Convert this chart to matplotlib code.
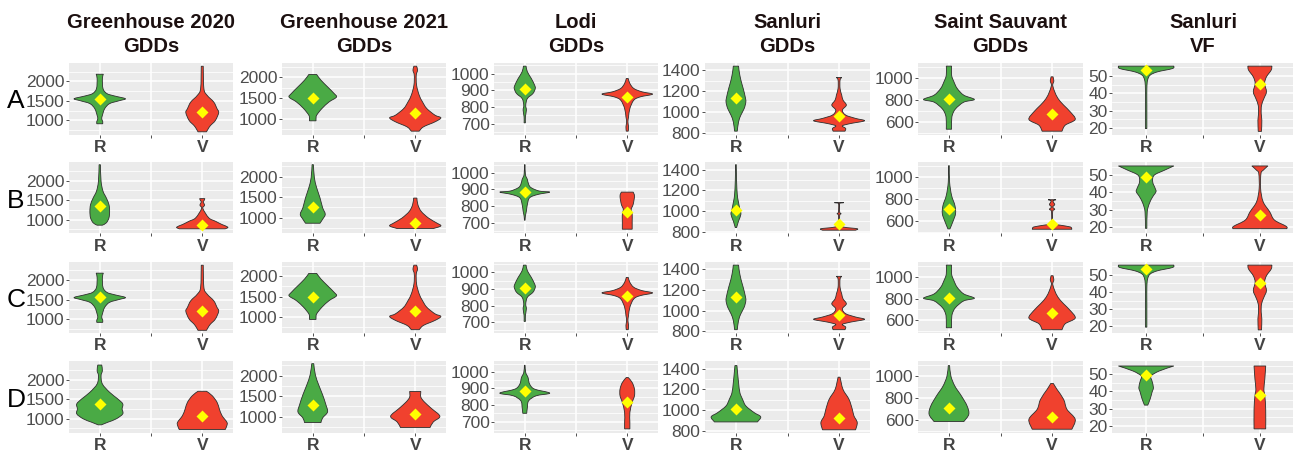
import matplotlib
matplotlib.use('Agg')
import matplotlib.pyplot as plt
from matplotlib.ticker import FixedLocator
from matplotlib.path import Path
from matplotlib.patches import PathPatch

plt.rcParams['font.family'] = ['Liberation Sans', 'DejaVu Sans']

# ---------------- DATA ----------------
# Violin outlines: (value, relative density width), top to bottom.
# Rows C repeat rows A (identical in the reference).
row_labels = ['A', 'B', 'C', 'D']
groups = ['R', 'V']

# Greenhouse 2020 GDDs
gh20_A_R = [(2180, 11), (2070, 8), (1810, 10), (1685, 22), (1625, 45), (1555, 78), (1505, 60),
            (1430, 30), (1300, 15), (1130, 8), (1040, 6), (975, 9), (915, 9)]
gh20_A_V = [(2385, 3), (1810, 5), (1640, 15), (1470, 35), (1300, 45), (1200, 50), (1000, 40),
            (870, 25), (785, 18), (710, 13)]
gh20_B_R = [(2410, 2), (1983, 4), (1727, 10), (1556, 20), (1385, 28), (1214, 30), (1043, 28),
            (915, 20), (855, 8)]
gh20_B_V = [(1538, 8), (1495, 6), (1453, 3), (1368, 7), (1282, 2), (1043, 20), (957, 40),
            (872, 60), (804, 78), (761, 70)]
gh20_D_R = [(2376, 6), (2231, 8), (2103, 4), (1889, 8), (1675, 30), (1504, 55), (1376, 70),
            (1248, 68), (1120, 70), (991, 50), (906, 25), (838, 5)]
gh20_D_V = [(1701, 13), (1590, 30), (1419, 45), (1248, 52), (1077, 60), (906, 75), (820, 75),
            (718, 70)]
gh20_means = {'A': [1555, 1214], 'B': [1359, 872], 'D': [1368, 1077]}

# Greenhouse 2021 GDDs
gh21_A_R = [(2064, 12), (1927, 25), (1766, 45), (1605, 65), (1516, 72), (1403, 50), (1242, 28),
            (1081, 12), (1000, 10), (944, 10)]
gh21_A_V = [(2266, 4), (2169, 7), (2048, 3), (1806, 4), (1564, 12), (1403, 22), (1242, 35),
            (1081, 60), (1016, 78), (919, 60), (798, 25), (694, 12)]
gh21_B_R = [(2290, 2), (1968, 5), (1726, 12), (1484, 22), (1242, 30), (1081, 38), (960, 30),
            (863, 22)]
gh21_B_V = [(1476, 5), (1315, 8), (1153, 18), (992, 40), (871, 65), (798, 78), (734, 55)]
gh21_D_R = [(2290, 3), (2016, 8), (1774, 18), (1532, 30), (1290, 40), (1113, 45), (968, 30),
            (855, 25)]
gh21_D_V = [(1613, 17), (1476, 17), (1355, 28), (1194, 50), (1008, 75), (871, 55), (734, 45)]
gh21_means = {'A': [1500, 1145], 'B': [1266, 879], 'D': [1290, 1056]}

# Lodi GDDs
lodi_A_R = [(1044, 4), (1010, 8), (970, 20), (930, 30), (910, 32), (880, 25), (850, 8),
            (810, 3), (780, 5), (740, 2), (704, 2)]
lodi_A_V = [(970, 3), (940, 8), (910, 20), (890, 45), (876, 77), (860, 40), (840, 20),
            (790, 8), (740, 4), (710, 2), (680, 4), (654, 3)]
lodi_B_R = [(1050, 1), (990, 2), (960, 8), (930, 12), (910, 20), (890, 45), (884, 76),
            (870, 40), (850, 15), (810, 8), (770, 5), (740, 2), (714, 1)]
lodi_B_V = [(884, 18), (860, 22), (810, 18), (780, 12), (750, 15), (710, 15), (660, 15)]
lodi_D_R = [(1040, 1), (996, 3), (966, 10), (926, 15), (896, 30), (872, 76), (856, 35),
            (826, 12), (786, 8), (750, 6)]
lodi_D_V = [(966, 3), (936, 15), (896, 22), (856, 22), (816, 15), (756, 8), (696, 8), (656, 8)]
lodi_means = {'A': [908, 860], 'B': [884, 764], 'D': [882, 816]}

# Sanluri GDDs
sang_A_R = [(1438, 8), (1384, 10), (1304, 15), (1224, 22), (1145, 28), (1097, 30), (1033, 25),
            (970, 15), (906, 8), (816, 4)]
sang_A_V = [(1330, 8), (1304, 3), (1224, 3), (1161, 8), (1113, 12), (1065, 22), (1017, 10),
            (970, 20), (938, 50), (915, 77), (889, 35), (867, 10), (842, 20), (816, 18)]
sang_B_R = [(1448, 1), (1288, 2), (1161, 4), (1097, 7), (1017, 12), (969, 15), (905, 8),
            (841, 2)]
sang_B_V = [(1081, 14), (1075, 2), (990, 2), (975, 6), (960, 2), (870, 3), (845, 15),
            (830, 55), (816, 50)]
sang_D_R = [(1429, 3), (1359, 5), (1263, 8), (1167, 12), (1104, 20), (1040, 30), (976, 55),
            (935, 75), (886, 65)]
sang_D_V = [(1317, 3), (1199, 12), (1104, 30), (1008, 40), (944, 45), (880, 55), (810, 50)]
sang_means = {'A': [1129, 960], 'B': [1014, 874], 'D': [1008, 928]}

# Saint Sauvant GDDs
ss_A_R = [(1106, 8), (1024, 8), (964, 15), (903, 25), (842, 45), (803, 77), (779, 45),
          (718, 20), (660, 10), (600, 8), (533, 8)]
ss_A_V = [(1009, 3), (980, 5), (964, 5), (940, 2), (918, 3), (873, 8), (812, 18), (752, 35),
          (691, 55), (621, 70), (570, 40), (515, 30)]
ss_B_R = [(1106, 1), (955, 2), (833, 8), (742, 18), (667, 20), (594, 12), (527, 3)]
ss_B_V = [(794, 12), (785, 3), (767, 5), (749, 8), (727, 2), (706, 8), (688, 2), (580, 3),
          (561, 25), (545, 55), (524, 60)]
ss_D_R = [(1097, 2), (1000, 6), (909, 18), (818, 38), (727, 55), (651, 60), (585, 45)]
ss_D_V = [(933, 4), (879, 15), (788, 35), (697, 45), (606, 70), (515, 60)]
ss_means = {'A': [809, 670], 'B': [706, 576], 'D': [709, 627]}

# Sanluri VF
vf_A_R = [(55.6, 76), (54.2, 72), (52.3, 31), (50.4, 11), (47.5, 4), (42.7, 2), (33.0, 2),
          (19.6, 2)]
vf_A_V = [(55.6, 33), (53.3, 31), (49.4, 18), (45.6, 13), (40.8, 18), (36.9, 11), (33.0, 4.5),
          (28.3, 3.6), (24.4, 5.4), (18.0, 4.5)]
vf_B_R = [(55.4, 76), (52.9, 50), (50.0, 22), (46.2, 18), (42.3, 25), (40.4, 27), (37.5, 18),
          (33.7, 9), (28.8, 3), (19.2, 2)]
vf_B_V = [(55.4, 22), (52.9, 9), (51.0, 3), (42.3, 2), (34.6, 9), (28.8, 27), (24.0, 40),
          (20.4, 72), (19.0, 74)]
vf_D_R = [(54.8, 76), (51.9, 36), (49.0, 13.5), (46.2, 16), (42.3, 20), (39.4, 16), (35.6, 11),
          (32.1, 4.5)]
vf_D_V = [(54.8, 16), (47.1, 13.5), (41.3, 11), (37.5, 13.5), (29.8, 16), (18.3, 16)]
vf_means = {'A': [53.3, 45.4], 'B': [48.8, 26.9], 'D': [49.4, 37.9]}

col_titles = [('Greenhouse 2020', 'GDDs'), ('Greenhouse 2021', 'GDDs'), ('Lodi', 'GDDs'),
              ('Sanluri', 'GDDs'), ('Saint Sauvant', 'GDDs'), ('Sanluri', 'VF')]
col_ticks = [[1000, 1500, 2000], [1000, 1500, 2000], [700, 800, 900, 1000],
             [800, 1000, 1200, 1400], [600, 800, 1000], [20, 30, 40, 50]]
col_minor = [[750, 1250, 1750, 2250], [750, 1250, 1750, 2250], [650, 750, 850, 950, 1050],
             [900, 1100, 1300], [500, 700, 900, 1100], [25, 35, 45, 55]]
col_ylim = [(641, 2480), (613, 2355), (634, 1066), (784, 1473), (485, 1139), (16.2, 57.7)]

col_data = [
    {'A': (gh20_A_R, gh20_A_V), 'B': (gh20_B_R, gh20_B_V), 'C': (gh20_A_R, gh20_A_V), 'D': (gh20_D_R, gh20_D_V)},
    {'A': (gh21_A_R, gh21_A_V), 'B': (gh21_B_R, gh21_B_V), 'C': (gh21_A_R, gh21_A_V), 'D': (gh21_D_R, gh21_D_V)},
    {'A': (lodi_A_R, lodi_A_V), 'B': (lodi_B_R, lodi_B_V), 'C': (lodi_A_R, lodi_A_V), 'D': (lodi_D_R, lodi_D_V)},
    {'A': (sang_A_R, sang_A_V), 'B': (sang_B_R, sang_B_V), 'C': (sang_A_R, sang_A_V), 'D': (sang_D_R, sang_D_V)},
    {'A': (ss_A_R, ss_A_V), 'B': (ss_B_R, ss_B_V), 'C': (ss_A_R, ss_A_V), 'D': (ss_D_R, ss_D_V)},
    {'A': (vf_A_R, vf_A_V), 'B': (vf_B_R, vf_B_V), 'C': (vf_A_R, vf_A_V), 'D': (vf_D_R, vf_D_V)},
]
col_means = [gh20_means, gh21_means, lodi_means, sang_means, ss_means, vf_means]

# ---------------- LAYOUT / STYLE ----------------
W, H = 1293, 451
fig = plt.figure(figsize=(W / 100, H / 100), dpi=100)

col_px = [(69, 233), (282, 446), (494, 658), (705, 870), (918, 1083), (1112, 1294)]
row_px = [(62.5, 134.5), (162, 233.5), (261.5, 333), (361, 432.5)]

fill_colors = {'R': '#4AAA45', 'V': '#F0412E'}
group_pos = {'R': 1, 'V': 3}
WSCALE = 0.5 / 78.0
TXT = '#4D4D4D'


def smooth_side(pts, center, side):
    """Catmull-Rom -> cubic Bezier control points along one side of a violin."""
    verts = []
    n = len(pts)
    for i in range(n - 1):
        p0 = pts[i - 1] if i > 0 else pts[i]
        p1 = pts[i]
        p2 = pts[i + 1]
        p3 = pts[i + 2] if i + 2 < n else pts[i + 1]
        c1 = [p1[0] + (p2[0] - p0[0]) / 6, p1[1] + (p2[1] - p0[1]) / 6]
        c2 = [p2[0] - (p3[0] - p1[0]) / 6, p2[1] - (p3[1] - p1[1]) / 6]
        lo, hi = min(p1[1], p2[1]), max(p1[1], p2[1])
        for c in (c1, c2):
            c[1] = min(max(c[1], lo), hi)
            if side > 0:
                c[0] = max(c[0], center)
            else:
                c[0] = min(c[0], center)
        verts += [tuple(c1), tuple(c2), p2]
    return verts


def violin_path(prof, pos):
    ys = [p[0] for p in prof]
    ws = [p[1] * WSCALE for p in prof]
    right = [(pos + w, y) for w, y in zip(ws, ys)]
    left = [(pos - w, y) for w, y in zip(ws[::-1], ys[::-1])]
    verts = [left[-1], right[0]]
    codes = [Path.MOVETO, Path.LINETO]
    rv = smooth_side(right, pos, 1)
    verts += rv
    codes += [Path.CURVE4] * len(rv)
    verts.append(left[0])
    codes.append(Path.LINETO)
    lv = smooth_side(left, pos, -1)
    verts += lv
    codes += [Path.CURVE4] * len(lv)
    verts.append(left[-1])
    codes.append(Path.CLOSEPOLY)
    return Path(verts, codes)


for ci in range(6):
    x0, x1 = col_px[ci]
    xc = (x0 + x1) / 2
    fig.text(xc / W, 1 - 28 / H, col_titles[ci][0], ha='center', va='baseline',
             fontsize=14.5, fontweight='bold', color='#1C1010')
    fig.text(xc / W, 1 - 52 / H, col_titles[ci][1], ha='center', va='baseline',
             fontsize=14.5, fontweight='bold', color='#1C1010')
    for ri, rl in enumerate(row_labels):
        yt, yb = row_px[ri]
        ax = fig.add_axes([x0 / W, 1 - yb / H, (x1 - x0) / W, (yb - yt) / H])
        ax.set_facecolor('#EBEBEB')
        for s in ax.spines.values():
            s.set_visible(False)
        ax.set_xlim(0.4, 3.6)
        ax.set_ylim(*col_ylim[ci])
        ax.set_xticks([1, 2, 3])
        ax.set_xticklabels(['R', '', 'V'], fontweight='bold', fontsize=12.5, color='#444444')
        ax.set_yticks(col_ticks[ci])
        ax.set_yticklabels([str(t) for t in col_ticks[ci]], fontsize=12.5, color=TXT)
        ax.yaxis.set_minor_locator(FixedLocator(col_minor[ci]))
        ax.tick_params(which='major', length=2.2, width=0.6, color='#333333')
        ax.tick_params(axis='y', pad=1.0)
        ax.tick_params(axis='x', pad=1.5)
        ax.tick_params(which='minor', length=0)
        ax.grid(which='major', color='white', lw=1.1)
        ax.grid(which='minor', axis='y', color='white', lw=0.55)
        ax.set_axisbelow(True)
        profiles = col_data[ci][rl]
        means = col_means[ci]['A' if rl == 'C' else rl]
        for gi, g in enumerate(groups):
            pos = group_pos[g]
            patch = PathPatch(violin_path(profiles[gi], pos), facecolor=fill_colors[g],
                              edgecolor='#2E2E2E', lw=0.6, zorder=2)
            ax.add_patch(patch)
            ax.plot([pos], [means[gi]], marker='D', ms=6.5, color='#FFFF00',
                    mec='none', zorder=3, linestyle='none')
        if ci == 0:
            fig.text(16 / W, 1 - ((yt + yb) / 2 + 3) / H, rl, ha='center', va='center',
                     fontsize=19, color='black')

fig.savefig('out.png', dpi=100)
